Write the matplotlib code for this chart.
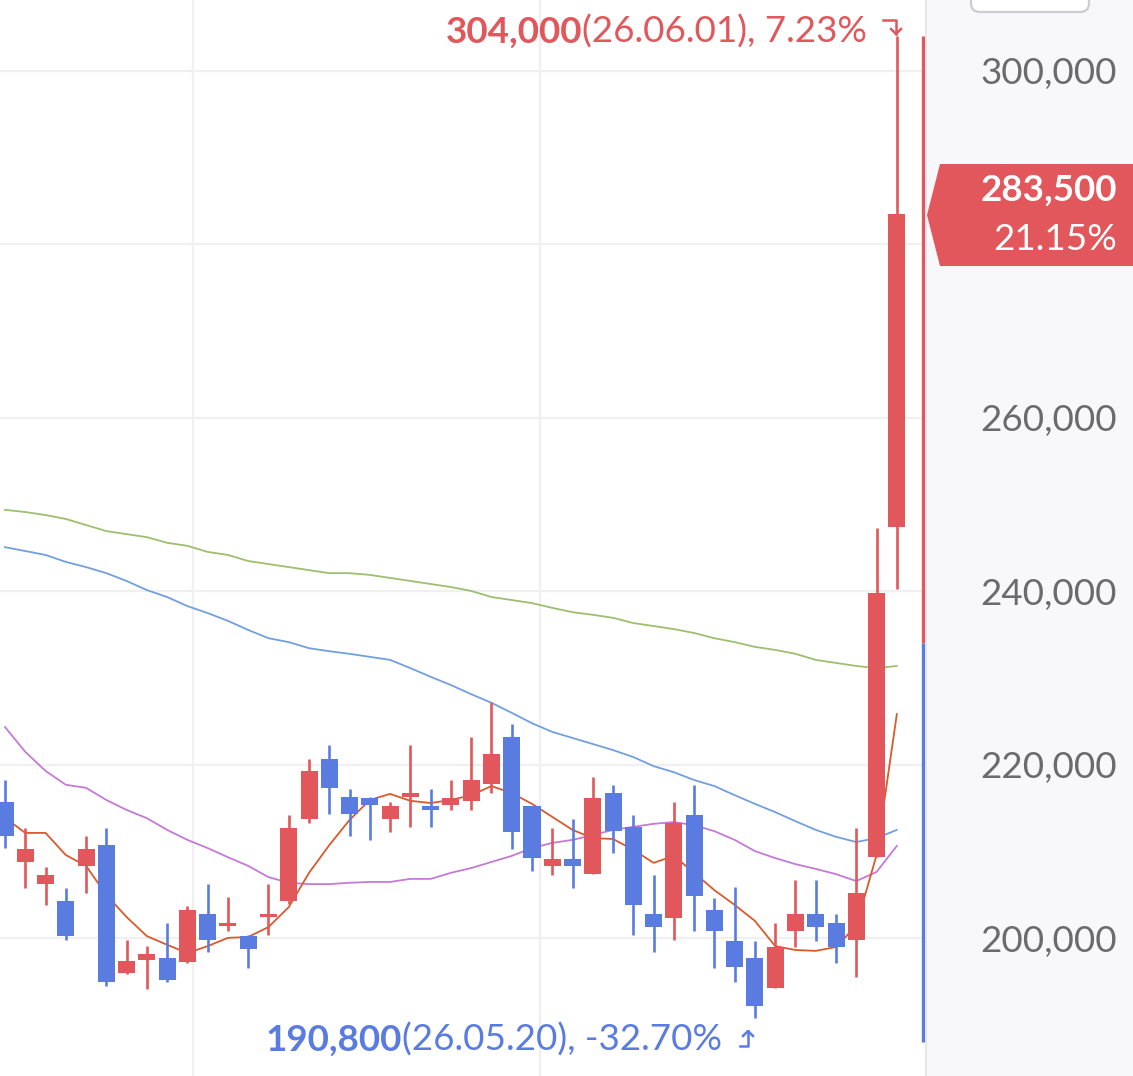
import matplotlib
matplotlib.use('Agg')
import matplotlib.pyplot as plt
from matplotlib.patches import Polygon, Rectangle, FancyBboxPatch
from matplotlib.lines import Line2D
import matplotlib.transforms as mtrans

# ---------------- data ----------------
opens = [215750, 208800, 206300, 204250, 208300, 210700, 195950, 197500, 197750, 197250,
         202750, 201400, 200250, 202450, 204250, 213800, 220700, 216300, 216200, 213800,
         216300, 215250, 215350, 215850, 217750, 223200, 215200, 208300, 209200, 207400,
         216700, 212850, 202750, 202350, 214200, 203250, 199650, 197750, 194250, 200800,
         202750, 201750, 199800, 209350, 247400]
highs = [218200, 212700, 208200, 205750, 211750, 212700, 199800, 199100, 201750, 203750,
         206250, 204750, 200350, 206300, 214250, 220700, 222250, 217250, 216250, 215700,
         222250, 217250, 218200, 223200, 227250, 224750, 215200, 212750, 213700, 218650,
         217700, 214250, 207250, 215700, 217700, 204700, 205950, 199650, 201750, 206750,
         206750, 202750, 212750, 247300, 304000]
lows = [210400, 205800, 203800, 199850, 205250, 194500, 195850, 194100, 194950, 197100,
        198450, 200800, 196600, 200350, 203950, 213300, 214300, 211750, 211300, 212250,
        212850, 212850, 214850, 214850, 216800, 210350, 207750, 207350, 205850, 207400,
        209850, 200350, 198450, 199850, 200850, 196600, 194950, 190800, 194250, 199050,
        199650, 197100, 195550, 209350, 240300]
closes = [211800, 210250, 207250, 200300, 210250, 194950, 197350, 198150, 195150, 203250,
          199850, 201750, 198750, 202800, 212750, 219250, 217350, 214300, 215350, 215200,
          216700, 214850, 216200, 218200, 221200, 212250, 209300, 209200, 208350, 216200,
          212350, 203800, 201300, 213300, 204850, 200800, 196700, 192250, 198950, 202750,
          201300, 199050, 205250, 239800, 283500]

ma5 = [213900, 212150, 212150, 209600, 208350, 205000, 202450, 200250, 199250, 198300,
       199100, 200050, 200150, 201300, 203600, 207550, 210750, 213650, 215950, 216650,
       215850, 215600, 215950, 216500, 217550, 216750, 215500, 214000, 212500, 211550,
       211450, 210200, 208700, 209500, 207550, 205550, 203850, 202000, 199100, 198650,
       198550, 199000, 201450, 209600, 225850]
ma20 = [224350, 221500, 219300, 217700, 217350, 215950, 214800, 213850, 212500, 211350,
        210400, 209350, 208350, 207050, 206400, 206250, 206250, 206400, 206500, 206500,
        206850, 206850, 207550, 208100, 208800, 209500, 210400, 211000, 211350, 211900,
        212500, 212850, 213200, 213400, 213050, 212350, 211350, 210050, 209250, 208550,
        208000, 207400, 206600, 207650, 210650]
ma60 = [245100, 244650, 244200, 243400, 242800, 242100, 241200, 240150, 239350, 238300,
        237500, 236600, 235550, 234600, 234150, 233450, 233100, 232800, 232450, 232100,
        231150, 230150, 229200, 228150, 227150, 226000, 224800, 223800, 223100, 222400,
        221700, 220900, 219850, 219150, 218250, 217550, 216500, 215500, 214550, 213500,
        212500, 211700, 211100, 211550, 212500]
ma120 = [249400, 249150, 248800, 248350, 247650, 246950, 246600, 246250, 245600, 245250,
         244550, 244200, 243500, 243150, 242800, 242450, 242100, 242100, 241900, 241550,
         241200, 240850, 240500, 240050, 239350, 239000, 238650, 238100, 237600, 237300,
         236950, 236350, 236000, 235650, 235200, 234600, 234150, 233600, 233250, 232800,
         232100, 231750, 231400, 231150, 231400]

y_ticks = [200000, 220000, 240000, 260000, 280000, 300000]
y_tick_labels = ["200,000", "220,000", "240,000", "260,000", "280,000", "300,000"]
hidden_tick = 280000  # covered by the last-price tag in the reference

prev_close = 234000
range_low = 188000
high_text_bold, high_text = "304,000", "(26.06.01), 7.23%"
low_text_bold, low_text = "190,800", "(26.05.20), -32.70%"
last_price_text, last_pct_text = "283,500", "21.15%"

# ---------------- style ----------------
RED = '#e1575b'
BLUE = '#5a7ce0'
C_MA5 = '#d95a2b'
C_MA20 = '#c57ad6'
C_MA60 = '#72a0de'
C_MA120 = '#9dbf6e'
GRID = '#f0f0f3'
FONT = ['Lato', 'DejaVu Sans']
FS = 26.5

W, H = 1133, 1076
fig = plt.figure(figsize=(W / 100, H / 100), dpi=100)
fig.patch.set_facecolor('white')


def fx(x):
    return x / W


def fy(y):
    return 1 - y / H


# right panel
fig.add_artist(Rectangle((fx(925), 0), 1 - fx(925), 1, transform=fig.transFigure,
                         facecolor='#f8f8fa', edgecolor='none', zorder=0))
fig.add_artist(Line2D([fx(925.5), fx(925.5)], [0, 1], transform=fig.transFigure,
                      color='#e4e4e8', lw=1.2, zorder=1))

ax = fig.add_axes([0, 0, fx(925), 1])
ax.set_facecolor('none')
ax.set_xlim(-0.247, 45.39)
ax.set_ylim(184123, 308185)
for s in ax.spines.values():
    s.set_visible(False)
ax.set_xticks([])
ax.set_yticks([])

for t in y_ticks:
    ax.axhline(t, color=GRID, lw=1.6, zorder=0)
for vx in (9.27, 26.4):
    ax.axvline(vx, color=GRID, lw=1.6, zorder=0)

xs = list(range(len(opens)))
for xs_line, c in ((ma120, C_MA120), (ma60, C_MA60), (ma20, C_MA20), (ma5, C_MA5)):
    ax.plot(xs, xs_line, color=c, lw=1.3, zorder=2, solid_joinstyle='round')

min_h = 330
for i in xs:
    o, h, l, c = opens[i], highs[i], lows[i], closes[i]
    col = RED if c >= o else BLUE
    ax.vlines(i, l, h, color=col, lw=1.9, zorder=3)
    bottom = min(o, c)
    height = max(abs(c - o), min_h)
    ax.bar(i, height, bottom=bottom, width=0.84, color=col, zorder=4, linewidth=0)

# range indicator at right edge
ax.vlines(45.28, prev_close, highs[-1], color=RED, lw=2.4, zorder=5, clip_on=False)
ax.vlines(45.28, range_low, prev_close, color=BLUE, lw=2.4, zorder=5, clip_on=False)

# y tick labels in right panel
blend = mtrans.blended_transform_factory(fig.transFigure, ax.transData)
blend_off = mtrans.offset_copy(blend, fig=fig, x=0, y=-3, units='dots')
for t, lab in zip(y_ticks, y_tick_labels):
    if t == hidden_tick:
        continue
    fig.text(fx(1117), t, lab, transform=blend_off, ha='right', va='center',
             fontsize=FS, color='#6b6b6b', family=FONT, zorder=2)

# last price tag
tag = [(927, 215), (940, 164), (1133, 164), (1133, 266), (940, 266)]
fig.add_artist(Polygon([(fx(a), fy(b)) for a, b in tag], closed=True,
                       transform=fig.transFigure, facecolor=RED, edgecolor='none', zorder=5))
fig.text(fx(1117), fy(190), last_price_text, ha='right', va='center', fontsize=FS,
         fontweight='bold', color='white', family=FONT, zorder=6)
fig.text(fx(1117), fy(239), last_pct_text, ha='right', va='center', fontsize=FS,
         color='white', family=FONT, zorder=6)

# top-right button outline
fig.add_artist(FancyBboxPatch((fx(971), fy(12)), fx(118), fy(-30) - fy(12),
                              boxstyle='round,pad=0,rounding_size=0.008',
                              transform=fig.transFigure, facecolor='white',
                              edgecolor='#cdcdd0', lw=1.6, zorder=5))

renderer = fig.canvas.get_renderer()


def two_part(x_right, y_center, bold, normal, color):
    tn = fig.text(fx(x_right), fy(y_center), normal, ha='right', va='center',
                  fontsize=FS, color=color, family=FONT, zorder=6)
    bb = tn.get_window_extent(renderer=renderer)
    fig.text(bb.x0 / W, fy(y_center), bold, ha='right', va='center', fontsize=FS,
             fontweight='bold', color=color, family=FONT, zorder=6)


two_part(867, 32, high_text_bold, high_text, RED)
two_part(722, 1040, low_text_bold, low_text, BLUE)

# hook arrows
lw_a = 1.8
fig.add_artist(Line2D([fx(883), fx(896), fx(896)], [fy(20), fy(20), fy(34)],
                      transform=fig.transFigure, color=RED, lw=lw_a, zorder=6))
fig.add_artist(Line2D([fx(891), fx(896), fx(901)], [fy(29), fy(34), fy(29)],
                      transform=fig.transFigure, color=RED, lw=lw_a, zorder=6))
fig.add_artist(Line2D([fx(740), fx(748), fx(748)], [fy(1046), fy(1046), fy(1031)],
                      transform=fig.transFigure, color=BLUE, lw=lw_a, zorder=6))
fig.add_artist(Line2D([fx(743), fx(748), fx(753)], [fy(1036), fy(1031), fy(1036)],
                      transform=fig.transFigure, color=BLUE, lw=lw_a, zorder=6))

fig.savefig('out.png', dpi=100)
